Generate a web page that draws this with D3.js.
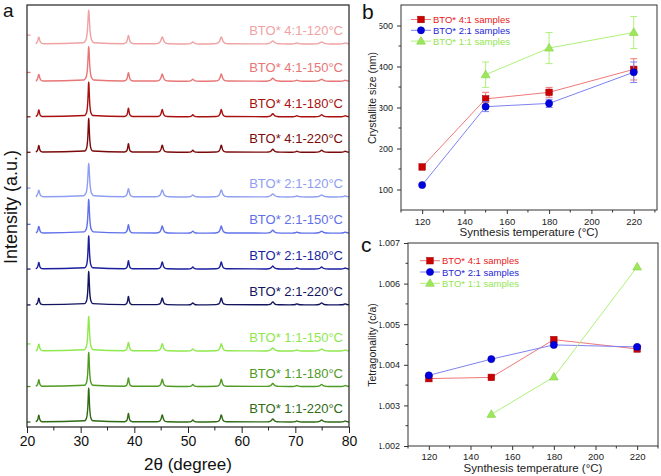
<!DOCTYPE html>
<html><head><meta charset="utf-8">
<script src="https://cdn.jsdelivr.net/npm/d3@7/dist/d3.min.js"></script>
<style>body{margin:0;background:#fff}svg{display:block;font-family:"Liberation Sans",Arial,sans-serif}</style>
</head><body>
<script>
// ---------- Panel a data (XRD patterns) ----------
const xrdPeakPos = [22.2, 31.5, 38.9, 45.2, 50.9, 56.2, 65.8, 70.3, 74.9, 79.3];
const xrdPeakRel = [0.2, 1, 0.25, 0.21, 0.06, 0.21, 0.09, 0.03, 0.06, 0.03];
const traceLabels = ["BTO* 1:1-220°C","BTO* 1:1-180°C","BTO* 1:1-150°C","BTO* 2:1-220°C","BTO* 2:1-180°C","BTO* 2:1-150°C","BTO* 2:1-120°C","BTO* 4:1-220°C","BTO* 4:1-180°C","BTO* 4:1-150°C","BTO* 4:1-120°C"];
const traceOffsets = [0, 1, 2, 3.3, 4.31, 5.32, 6.34, 7.6, 8.6, 9.6, 10.65];
const traceHeights = [0.96, 0.97, 0.98, 0.95, 0.94, 0.96, 0.95, 0.96, 0.98, 0.98, 0.96];
const traceWidths = [0.15, 0.15, 0.17, 0.15, 0.15, 0.17, 0.19, 0.15, 0.15, 0.18, 0.2];
const traceStart = [0, 0, 0.2, 0, 0, 0.25, 0.25, 0, 0, 0.25, 0.25];
const traceColors = ["#2f6a14","#4f9a22","#8ee84e","#12145e","#1a1f9e","#5f70ea","#8e9ef2","#7a0a0a","#a81010","#e87676","#f0a2a2"];
const xTicksA = [20, 30, 40, 50, 60, 70, 80];

// ---------- Panel b data (crystallite size) ----------
const temps = [120, 150, 180, 220];
const temps11 = [150, 180, 220];
const size41 = [155, 321, 337, 393];
const size41Err = [0, 16, 12, 26];
const size21 = [111, 302, 310, 386];
const size21Err = [0, 12, 10, 25];
const size11 = [380, 445, 483];
const size11Err = [31, 38, 39];
const yTicksB = [100, 200, 300, 400, 500];
const xTicksBC = [120, 140, 160, 180, 200, 220];

// ---------- Panel c data (tetragonality) ----------
const tet41 = [1.00366, 1.00369, 1.00462, 1.00439];
const tet21 = [1.00374, 1.00414, 1.00449, 1.00444];
const tet11 = [1.00278, 1.00370, 1.00641];
const yTicksC = [1.002, 1.003, 1.004, 1.005, 1.006, 1.007];
const legendNames = ["BTO* 4:1 samples", "BTO* 2:1 samples", "BTO* 1:1 samples"];

const W = 661, H = 476;
const svg = d3.select("body").append("svg").attr("width", W).attr("height", H);

// ================= Panel a =================
const xa = d3.scaleLinear().domain([20, 80]).range([27, 349]);
const ya = d3.scaleLinear().domain([-0.14, 11.75]).range([427, 5]);
const ga = svg.append("g");

const kOff = [-5, -3, -2, -1.2, -0.6, -0.25, 0, 0.25, 0.6, 1.2, 2, 3, 5];
function tracePoints(i) {
  const pts = [[21.7, 0]];
  xrdPeakPos.forEach((p, j) => {
    const w = traceWidths[i] * (p > 60 ? 1.8 : p > 42 ? 1.3 : 1);
    const h = traceHeights[i] * xrdPeakRel[j];
    kOff.forEach(k => {
      const x = p + k * w;
      if (x >= 21.7 && x <= 80) pts.push([x, h / (1 + k * k)]);
    });
  });
  pts.push([80, 0]);
  pts.sort((a, b) => a[0] - b[0]);
  return pts;
}
const lineA = d3.line().x(d => xa(d[0])).curve(d3.curveMonotoneX);
traceLabels.forEach((lab, i) => {
  const off = traceOffsets[i];
  ga.append("path").attr("d", lineA.y(d => ya(off + d[1]))(tracePoints(i)))
    .attr("fill", "none").attr("stroke", traceColors[i]).attr("stroke-width", 1.4);
  ga.append("line").attr("x1", xa(20)).attr("x2", xa(20) + 3.5)
    .attr("y1", ya(off + traceStart[i])).attr("y2", ya(off + traceStart[i]))
    .attr("stroke", traceColors[i]).attr("stroke-width", 1.3);
  ga.append("text").attr("x", xa(80) - 6).attr("y", ya(off) - 9)
    .attr("text-anchor", "end").attr("font-size", 13).attr("fill", traceColors[i]).text(lab);
});
ga.append("rect").attr("x", 27).attr("y", 5).attr("width", 322).attr("height", 422)
  .attr("fill", "none").attr("stroke", "#222").attr("stroke-width", 1.2);
const axA = ga.append("g").attr("transform", "translate(0,427)")
  .call(d3.axisBottom(xa).tickValues(xTicksA).tickSize(6).tickPadding(3).tickFormat(d3.format("d")));
axA.select(".domain").remove();
axA.selectAll("line").attr("stroke", "#222");
axA.selectAll("text").attr("font-size", 14).attr("fill", "#111").attr("font-family", "Liberation Sans, Arial");
ga.append("g").selectAll("line").data([25, 35, 45, 55, 65, 75]).join("line")
  .attr("x1", d => xa(d)).attr("x2", d => xa(d)).attr("y1", 427).attr("y2", 430.5).attr("stroke", "#222");
ga.append("text").attr("x", 188).attr("y", 470).attr("text-anchor", "middle").attr("font-size", 17).attr("fill", "#111").text("2θ (degree)");
ga.append("text").attr("transform", "translate(17,207) rotate(-90)").attr("text-anchor", "middle")
  .attr("font-size", 18).attr("fill", "#111").text("Intensity (a.u.)");
svg.append("text").attr("x", 3).attr("y", 17).attr("font-size", 19).attr("fill", "#111").text("a");
svg.append("text").attr("x", 362).attr("y", 19).attr("font-size", 21).attr("fill", "#111").text("b");
svg.append("text").attr("x", 361).attr("y", 252).attr("font-size", 21).attr("fill", "#111").text("c");

// clip for b/c tick labels (image crop at x=380)
svg.append("defs").append("clipPath").attr("id", "cl").attr("clipPathUnits", "userSpaceOnUse").append("rect")
  .attr("x", 379.5).attr("y", 0).attr("width", 290).attr("height", H);

const col = {
  r: {line: "#f07878", mark: "#cc0000", stroke: "#a00000", text: "#e82020"},
  b: {line: "#7f82f2", mark: "#0000e0", stroke: "#00009a", text: "#2626d8"},
  g: {line: "#aef27a", mark: "#9de85a", stroke: "#7cc83a", text: "#94e654"}
};

function symbolFor(type, g, x, y, c) {
  if (type === "sq") g.append("rect").attr("x", x - 3.3).attr("y", y - 3.3).attr("width", 6.6).attr("height", 6.6).attr("fill", c.mark).attr("stroke", c.stroke).attr("stroke-width", 0.5);
  else if (type === "ci") g.append("circle").attr("cx", x).attr("cy", y).attr("r", 3.6).attr("fill", c.mark).attr("stroke", c.stroke).attr("stroke-width", 0.5);
  else g.append("path").attr("d", d3.symbol(d3.symbolTriangle, 34)()).attr("transform", `translate(${x},${y + 0.5})`).attr("fill", c.mark).attr("stroke", c.stroke).attr("stroke-width", 0.5);
}

function panel(opts) {
  const {x, y, yTicks, yMinor, xMinor, fmt, title, ytitle, ytitleY, tickLabY, titleY} = opts;
  const g = svg.append("g");
  const [x0, x1] = x.range(), [y0, y1] = y.range();
  g.append("rect").attr("x", x0).attr("y", y1).attr("width", x1 - x0).attr("height", y0 - y1)
    .attr("fill", "none").attr("stroke", "#333").attr("stroke-width", 1);
  // y ticks (wrapped in an untransformed, clipped group)
  const wrap = g.append("g").attr("clip-path", "url(#cl)");
  const gy = wrap.append("g").attr("transform", `translate(${x0},0)`)
    .call(d3.axisLeft(y).tickValues(yTicks).tickSize(4).tickPadding(4).tickFormat(fmt));
  gy.select(".domain").remove();
  gy.selectAll("line").attr("stroke", "#333");
  gy.selectAll("text").attr("font-size", 9).attr("fill", "#222").attr("font-family", "Liberation Sans, Arial");
  g.append("g").selectAll("line").data(yMinor).join("line")
    .attr("x1", x0 - 2.5).attr("x2", x0).attr("y1", d => y(d)).attr("y2", d => y(d)).attr("stroke", "#333");
  // x ticks
  const gx = g.append("g").attr("transform", `translate(0,${y0})`)
    .call(d3.axisBottom(x).tickValues(xTicksBC).tickSize(4).tickPadding(3).tickFormat(d3.format("d")));
  gx.select(".domain").remove();
  gx.selectAll("line").attr("stroke", "#333");
  gx.selectAll("text").attr("font-size", 9.5).attr("fill", "#222").attr("font-family", "Liberation Sans, Arial").attr("y", tickLabY - y0).attr("dy", 0);
  g.append("g").selectAll("line").data(xMinor).join("line")
    .attr("x1", d => x(d)).attr("x2", d => x(d)).attr("y1", y0).attr("y2", y0 + 2.5).attr("stroke", "#333");
  g.append("text").attr("x", (x0 + x1) / 2).attr("y", titleY).attr("text-anchor", "middle")
    .attr("font-size", 11.5).attr("fill", "#222").text(title);
  g.append("text").attr("transform", `translate(376,${ytitleY}) rotate(-90)`).attr("text-anchor", "middle")
    .attr("font-size", 10.5).attr("fill", "#222").text(ytitle);
  return g;
}

function series(g, x, y, xs, vals, errs, c, type) {
  const line = d3.line().x((d, i) => x(xs[i])).y(d => y(d));
  g.append("path").attr("d", line(vals)).attr("fill", "none").attr("stroke", c.line).attr("stroke-width", 1);
  if (errs) vals.forEach((v, i) => {
    if (!errs[i]) return;
    const xx = x(xs[i]), ya1 = y(v - errs[i]), ya2 = y(v + errs[i]);
    g.append("line").attr("x1", xx).attr("x2", xx).attr("y1", ya1).attr("y2", ya2).attr("stroke", c.line).attr("stroke-width", 1);
    [ya1, ya2].forEach(yy => g.append("line").attr("x1", xx - 3.5).attr("x2", xx + 3.5).attr("y1", yy).attr("y2", yy).attr("stroke", c.line).attr("stroke-width", 1));
  });
  vals.forEach((v, i) => symbolFor(type, g, x(xs[i]), y(v), c));
}

function legend(g, lx, ly, dy) {
  const items = [[col.r, "sq"], [col.b, "ci"], [col.g, "tr"]];
  items.forEach(([c, t], i) => {
    const yy = ly + i * dy;
    g.append("line").attr("x1", lx).attr("x2", lx + 20).attr("y1", yy).attr("y2", yy).attr("stroke", c.line).attr("stroke-width", 1);
    symbolFor(t, g, lx + 10, yy, c);
    g.append("text").attr("x", lx + 22).attr("y", yy + 3.5).attr("font-size", 9.5).attr("fill", c.text).text(legendNames[i]);
  });
}

// ================= Panel b =================
const xb = d3.scaleLinear().domain([110, 231]).range([401, 657]);
const yb = d3.scaleLinear().domain([50, 550]).range([210, 5]);
const gb = panel({x: xb, y: yb, yTicks: yTicksB, yMinor: [150, 250, 350, 450], xMinor: [110, 130, 150, 170, 190, 210, 230],
  fmt: d3.format("d"), title: "Synthesis temperature (°C)", ytitle: "Crystallite size (nm)", ytitleY: 98, tickLabY: 225, titleY: 236});
series(gb, xb, yb, temps, size41, size41Err, col.r, "sq");
series(gb, xb, yb, temps, size21, size21Err, col.b, "ci");
series(gb, xb, yb, temps11, size11, size11Err, col.g, "tr");
legend(gb, 411, 19.5, 10.8);

// ================= Panel c =================
const xc = d3.scaleLinear().domain([110, 230]).range([408, 658]);
const yc = d3.scaleLinear().domain([1.002, 1.007]).range([446, 243]);
const gc = panel({x: xc, y: yc, yTicks: yTicksC, yMinor: [1.0025, 1.0035, 1.0045, 1.0055, 1.0065], xMinor: [110, 130, 150, 170, 190, 210, 230],
  fmt: d3.format(".3f"), title: "Synthesis temperature (°C)", ytitle: "Tetragonality (c/a)", ytitleY: 345, tickLabY: 460, titleY: 472});
series(gc, xc, yc, temps, tet41, null, col.r, "sq");
series(gc, xc, yc, temps, tet21, null, col.b, "ci");
series(gc, xc, yc, temps11, tet11, null, col.g, "tr");
legend(gc, 420, 260.7, 11.3);
</script>
</body></html>
